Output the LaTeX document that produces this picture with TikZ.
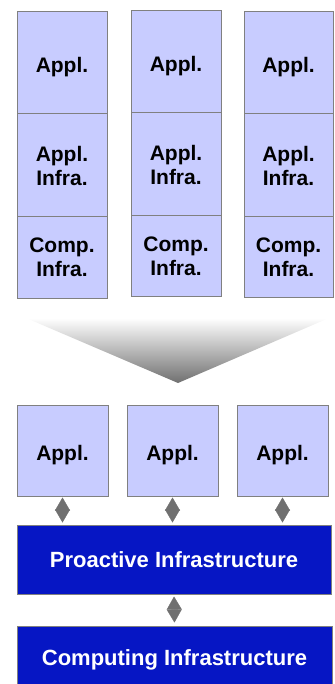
\documentclass[tikz,border=0pt]{standalone}
\usepackage{fontspec}
\setmainfont{Liberation Sans}
\usetikzlibrary{arrows.meta}
\definecolor{cellfill}{RGB}{200,204,255}
\definecolor{cellborder}{RGB}{128,128,128}
\definecolor{barfill}{RGB}{6,22,196}
\definecolor{linkgray}{RGB}{112,112,112}
\tikzset{
  cell/.style={draw=cellborder, line width=1pt, fill=cellfill, inner sep=0pt,
    align=center, font=\fontsize{21}{24}\selectfont\bfseries, text=black},
  oneline/.style={text height=20pt, text depth=0pt},
  bar/.style={draw=cellborder, line width=1pt, fill=barfill, inner sep=0pt,
    align=center, font=\fontsize{22}{26}\selectfont\bfseries, text=white},
  link/.style={draw=linkgray, fill=linkgray, line width=0.3pt,
    {Triangle[width=15pt,length=13pt]}-{Triangle[width=15pt,length=13pt]}}
}
\begin{document}
\begin{tikzpicture}[x=1pt,y=-1pt]
\useasboundingbox (0,0) rectangle (334,684);
\clip (0,0) rectangle (334,684);
% top stacks
\node[cell, oneline, minimum width=90pt, minimum height=102pt] (c1a) at (62,63) {Appl.};
\node[cell, minimum width=90pt, minimum height=103pt] (c1b) at (62,165.5) {Appl.\\Infra.};
\node[cell, minimum width=90pt, minimum height=81pt] (c1c) at (62,257.5) {Comp.\\Infra.};
\node[cell, oneline, minimum width=90pt, minimum height=102pt] (c2a) at (176,62) {Appl.};
\node[cell, minimum width=90pt, minimum height=103pt] (c2b) at (176,164.5) {Appl.\\Infra.};
\node[cell, minimum width=90pt, minimum height=80pt] (c2c) at (176,256) {Comp.\\Infra.};
\node[cell, oneline, minimum width=89pt, minimum height=102pt] (c3a) at (288.5,63) {Appl.};
\node[cell, minimum width=89pt, minimum height=103pt] (c3b) at (288.5,165.5) {Appl.\\Infra.};
\node[cell, minimum width=89pt, minimum height=80pt] (c3c) at (288.5,257) {Comp.\\Infra.};
% gradient chevron
\shade[top color=white, bottom color=linkgray] (26,318) -- (329,318) -- (178,383) -- cycle;
% bottom applications
\node[cell, oneline, minimum width=91pt, minimum height=91pt] (a1) at (62.5,450.5) {Appl.};
\node[cell, oneline, minimum width=91pt, minimum height=91pt] (a2) at (172.5,450.5) {Appl.};
\node[cell, oneline, minimum width=91pt, minimum height=91pt] (a3) at (282.5,450.5) {Appl.};
% infrastructure bars
\node[bar, minimum width=314pt, minimum height=69pt] (pro) at (174,559.5) {Proactive Infrastructure};
\node[bar, minimum width=315pt, minimum height=68pt] (comp) at (174.5,660) {Computing Infrastructure};
% diamond connectors
\draw[link, shorten <=1pt, shorten >=2pt] (a1.south) -- (a1.south |- pro.north);
\draw[link, shorten <=1pt, shorten >=2pt] (a2.south) -- (a2.south |- pro.north);
\draw[link, shorten <=1pt, shorten >=2pt] (a3.south) -- (a3.south |- pro.north);
\draw[link, shorten <=2pt, shorten >=3pt] (pro.south) -- (comp.north);
\end{tikzpicture}
\end{document}
